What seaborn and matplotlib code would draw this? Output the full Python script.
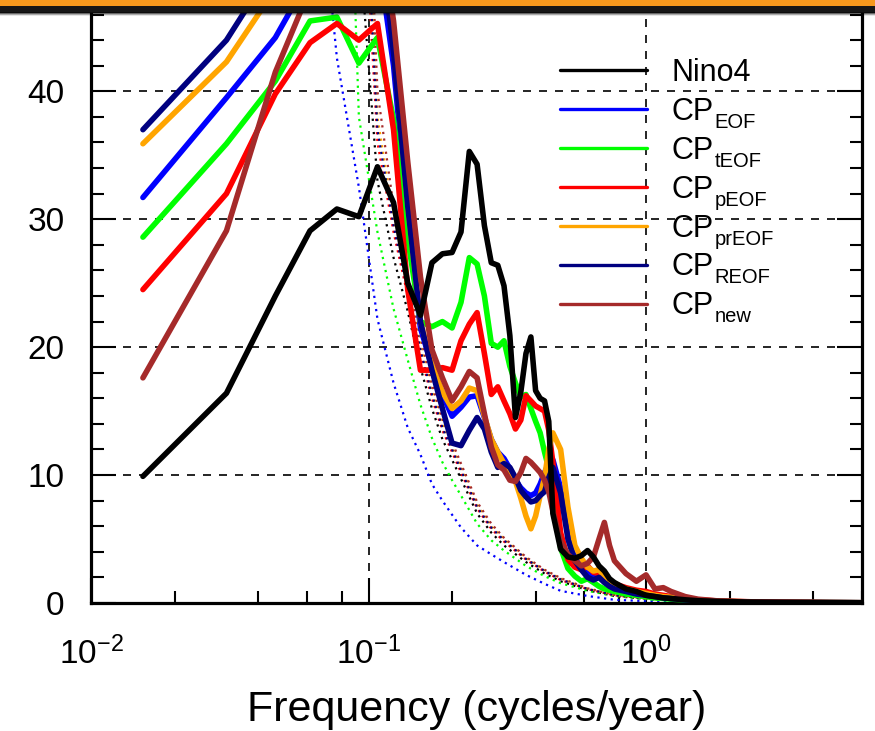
import numpy as np
import pandas as pd
import matplotlib
matplotlib.use("Agg")
import matplotlib.pyplot as plt
import seaborn as sns
from matplotlib.ticker import LogLocator, FixedLocator, MultipleLocator, FuncFormatter, NullFormatter
from matplotlib.patches import Rectangle

sns.set_style("ticks")
plt.rcParams["font.family"] = ["Liberation Sans", "DejaVu Sans"]
plt.rcParams["mathtext.fontset"] = "custom"
plt.rcParams["mathtext.rm"] = "Liberation Sans"
plt.rcParams["mathtext.it"] = "Liberation Sans:italic"
plt.rcParams["mathtext.bf"] = "Liberation Sans:bold"
for key in ["text.color", "axes.labelcolor", "xtick.color", "ytick.color", "axes.edgecolor"]:
    plt.rcParams[key] = "black"

# ---------------------------------------------------------------------------
# Power spectra of the CP-ENSO indices (monthly series, 65-year record)
# ---------------------------------------------------------------------------
RECORD_YEARS = 65
harmonic = [1, 2, 3, 4, 5, 6, 7, 8, 9, 10, 11, 12, 13, 14, 15, 16, 17, 18, 19, 20,
            21, 22, 23, 24, 25, 26, 27, 28, 29, 30, 32, 34, 36, 38, 40, 42, 44, 46, 48, 50,
            55, 60, 65, 70, 75, 80, 90, 100, 120, 150, 200, 300, 390]

nino4 = [9.9, 16.4, 24.0, 29.1, 30.8, 30.2, 34.1, 31.3, 25.0, 22.5, 26.6, 27.3, 27.4, 29.0, 35.3,
         34.3, 29.5, 26.6, 26.4, 24.8, 20.9, 14.5, 16.5, 19.5, 20.8, 16.6, 16.0, 15.8, 14.2, 7.0,
         4.2, 3.6, 3.5, 3.7, 4.1, 3.6, 2.9, 2.5, 1.9, 1.6, 1.1, 0.9, 0.6, 0.5, 0.4, 0.35, 0.25,
         0.18, 0.12, 0.08, 0.05, 0.03, 0.02]
cp_eof = [31.7, 39.5, 44.2, 49.0, 52.0, 52.0, 51.0, 42.0, 30.0, 21.5, 18.5, 16.3, 14.6, 15.3, 16.1,
          16.2, 14.5, 12.8, 11.8, 11.3, 10.5, 9.6, 9.0, 8.6, 8.4, 8.6, 9.3, 10.2, 10.9, 11.2,
          9.0, 5.5, 3.6, 2.8, 2.3, 2.0, 2.4, 1.9, 1.5, 1.2, 0.9, 0.75, 0.6, 0.5, 0.42, 0.36, 0.27,
          0.2, 0.13, 0.08, 0.05, 0.03, 0.02]
cp_teof = [28.6, 35.9, 40.8, 45.5, 45.8, 42.2, 44.2, 37.8, 28.5, 22.0, 21.6, 22.0, 21.5, 23.5, 27.0,
           26.5, 24.0, 20.3, 20.0, 20.5, 18.5, 17.2, 16.1, 16.3, 15.2, 14.2, 13.3, 11.8, 10.5, 8.3,
           4.3, 2.7, 2.1, 1.7, 1.9, 1.6, 1.3, 1.1, 1.0, 0.9, 0.7, 0.6, 0.5, 0.4, 0.35, 0.3, 0.25,
           0.2, 0.12, 0.08, 0.05, 0.03, 0.02]
cp_peof = [24.5, 32.0, 39.8, 43.8, 45.3, 44.0, 45.3, 37.0, 24.5, 18.2, 18.2, 18.4, 18.2, 20.5, 21.8,
           22.7, 19.5, 16.3, 16.9, 15.8, 14.8, 13.6, 14.3, 16.2, 15.8, 15.4, 15.2, 15.0, 13.5, 11.0,
           5.5, 3.4, 2.8, 2.6, 2.9, 2.4, 2.3, 2.0, 1.8, 1.5, 1.2, 1.0, 0.9, 0.7, 0.6, 0.5, 0.35,
           0.25, 0.15, 0.1, 0.06, 0.03, 0.02]
cp_preof = [35.9, 42.3, 48.0, 53.0, 56.0, 57.0, 56.0, 43.5, 31.0, 22.0, 18.6, 16.5, 15.2, 15.8, 16.8,
            16.6, 14.6, 12.8, 11.8, 10.9, 10.3, 9.5, 8.2, 6.8, 5.8, 6.8, 8.4, 9.8, 12.0, 13.3,
            12.0, 7.5, 4.5, 3.5, 2.8, 2.5, 2.6, 2.1, 1.7, 1.4, 1.1, 0.9, 0.75, 0.6, 0.5, 0.45, 0.32,
            0.22, 0.14, 0.09, 0.05, 0.03, 0.02]
cp_reof = [37.0, 44.0, 50.0, 54.0, 56.0, 56.0, 54.0, 43.0, 31.0, 22.0, 18.2, 15.2, 12.5, 12.3, 13.5,
           14.5, 13.6, 11.8, 10.6, 10.9, 10.6, 9.8, 8.8, 8.3, 7.9, 8.0, 8.4, 8.7, 9.8, 10.6,
           8.6, 5.0, 3.3, 2.6, 2.0, 1.8, 2.0, 1.6, 1.3, 1.1, 0.9, 0.7, 0.6, 0.5, 0.4, 0.35, 0.25,
           0.18, 0.12, 0.08, 0.05, 0.03, 0.02]
cp_new = [17.6, 29.1, 41.5, 48.0, 53.0, 56.0, 54.0, 45.5, 34.5, 25.5, 19.8, 17.6, 15.8, 16.9, 18.1,
          17.6, 14.8, 12.2, 10.8, 10.4, 9.6, 9.5, 10.2, 11.3, 11.0, 10.6, 10.2, 9.6, 8.7, 7.2,
          4.8, 3.8, 3.3, 2.9, 3.1, 3.6, 5.0, 6.3, 4.5, 3.3, 2.3, 1.7, 2.2, 1.1, 1.2, 0.9, 0.5,
          0.3, 0.15, 0.1, 0.06, 0.03, 0.02]

# red-noise reference spectra (dotted), on a coarser harmonic grid
harmonic_rn = [4, 5, 6, 7, 8, 9, 10, 11, 12, 13, 14, 16, 18, 20, 24, 28, 32, 40, 50, 65, 80,
               100, 150, 200, 300, 390]
rn_nino4 = [300, 150, 52, 33, 27, 22.8, 18.4, 15.2, 12.8, 11.2, 9.7, 7.0, 5.5, 4.5, 3.2, 2.3, 1.7,
            1.0, 0.55, 0.32, 0.2, 0.12, 0.06, 0.04, 0.02, 0.01]
rn_eof = [64, 42.6, 32.5, 22.2, 17.2, 13.7, 11.6, 9.3, 8.0, 6.9, 5.9, 4.5, 3.8, 3.2, 2.2, 1.5, 0.95,
          0.55, 0.25, 0.15, 0.1, 0.07, 0.04, 0.03, 0.02, 0.01]
rn_teof = [150, 90, 38, 29, 23, 19, 15.5, 12.9, 11.0, 9.6, 8.4, 6.2, 4.9, 4.1, 2.9, 2.1, 1.55,
           0.95, 0.55, 0.3, 0.2, 0.12, 0.06, 0.04, 0.02, 0.01]
rn_peof = [300, 180, 62, 36, 29, 24, 19.5, 16, 13.5, 11.8, 10.2, 7.4, 5.8, 4.8, 3.4, 2.45, 1.8,
           1.08, 0.6, 0.35, 0.22, 0.13, 0.07, 0.04, 0.02, 0.01]
rn_preof = [300, 200, 70, 38, 30, 24.8, 20.2, 16.6, 14.0, 12.2, 10.6, 7.7, 6.0, 5.0, 3.5, 2.55, 1.9,
            1.12, 0.62, 0.36, 0.23, 0.14, 0.07, 0.04, 0.02, 0.01]
rn_reof = [300, 190, 66, 37, 29.5, 24.4, 19.8, 16.3, 13.7, 12.0, 10.4, 7.5, 5.9, 4.9, 3.45, 2.5,
           1.85, 1.1, 0.61, 0.35, 0.22, 0.13, 0.07, 0.04, 0.02, 0.01]
rn_new = [300, 220, 76, 40, 31, 25.5, 20.8, 17.1, 14.4, 12.6, 10.9, 7.9, 6.2, 5.1, 3.6, 2.6, 1.95,
          1.15, 0.64, 0.37, 0.24, 0.14, 0.07, 0.04, 0.02, 0.01]

names = ["Nino4", "CP", "CP", "CP", "CP", "CP", "CP"]
subscripts = ["", "EOF", "tEOF", "pEOF", "prEOF", "REOF", "new"]
colors = ["black", "#0000ff", "#00ff00", "#ff0000", "#ffa500", "#000080", "#a52a2a"]
spectra = [nino4, cp_eof, cp_teof, cp_peof, cp_preof, cp_reof, cp_new]
rednoise = [rn_nino4, rn_eof, rn_teof, rn_peof, rn_preof, rn_reof, rn_new]

freq = np.array(harmonic) / RECORD_YEARS
freq_rn = np.array(harmonic_rn) / RECORD_YEARS

W, H = 875, 731
fig = plt.figure(figsize=(W / 100, H / 100), dpi=100)
fig.patch.set_facecolor("white")
ax = fig.add_axes([91 / W, 1 - 603 / H, (862 - 91) / W, (603 - 12) / H])
ax.set_xscale("log")

# dotted red-noise curves underneath
for vals, c in zip(rednoise, colors):
    sns.lineplot(x=freq_rn, y=vals, color=c, lw=1.6, linestyle=(0, (1, 2.0)), ax=ax,
                 legend=False, zorder=2)

# spectra, black drawn last
order = [1, 2, 3, 4, 5, 6, 0]
handles = {}
for i in order:
    sns.lineplot(x=freq, y=spectra[i], color=colors[i], lw=4.0, ax=ax, legend=False, zorder=3)
    handles[i] = ax.lines[-1]

ax.set_xlim(0.01, 6)
ax.set_ylim(0, 46.2)

# axes styling
for side in ["left", "right", "bottom"]:
    ax.spines[side].set_linewidth(2.3)
    ax.spines[side].set_color("black")
ax.spines["top"].set_visible(False)

ax.xaxis.set_major_locator(FixedLocator([0.01, 0.1, 1]))
ax.xaxis.set_minor_locator(LogLocator(base=10, subs=(2, 4, 6, 8)))
ax.xaxis.set_major_formatter(FuncFormatter(lambda v, p: r"$\mathregular{10^{%d}}$" % round(np.log10(v))))
ax.xaxis.set_minor_formatter(NullFormatter())
ax.yaxis.set_major_locator(MultipleLocator(10))
ax.yaxis.set_minor_locator(MultipleLocator(2))

ax.tick_params(axis="both", which="both", direction="in", color="black", width=1.5,
               left=True, right=True, bottom=True, top=False, labelcolor="black")
ax.tick_params(axis="both", which="major", length=18, labelsize=24)
ax.tick_params(axis="both", which="minor", length=9)
ax.tick_params(axis="x", which="major", pad=24)
ax.tick_params(axis="y", which="major", pad=19)

ax.grid(which="major", color="black", lw=1.2, ls=(0, (4.8, 4.8)))
ax.set_axisbelow(True)

ax.set_xlabel("Frequency (cycles/year)", fontsize=31, labelpad=14, color="black")
ax.set_ylabel("")

# legend
leg = ax.legend([handles[i] for i in range(7)], names, loc="upper left",
                bbox_to_anchor=(0.608, 0.922), frameon=False, fontsize=22,
                handlelength=2.84, handletextpad=0.82, labelspacing=0.29,
                borderpad=0, borderaxespad=0)
for ln in leg.get_lines():
    ln.set_linewidth(2.4)
for t in leg.get_texts():
    t.set_color("black")

fig.canvas.draw()
renderer = fig.canvas.get_renderer()
for t, sub in zip(leg.get_texts(), subscripts):
    if not sub:
        continue
    bb = t.get_window_extent(renderer)
    ax.annotate(sub, xy=(bb.x1 + 1, bb.y0 - 1), xycoords="figure pixels",
                fontsize=14.5, va="baseline", ha="left", color="black")

# title bar across the top edge
fig.add_artist(Rectangle((0, 1 - 6.5 / H), 1, 6.5 / H, transform=fig.transFigure,
                         color="#f7981d", zorder=20, lw=0))
fig.add_artist(Rectangle((0, 1 - 12.5 / H), 1, 6 / H, transform=fig.transFigure,
                         color="#161616", zorder=20, lw=0))
for j, a in enumerate([0.45, 0.25, 0.1]):
    fig.add_artist(Rectangle((0, 1 - (13.5 + j) / H), 1, 1 / H, transform=fig.transFigure,
                             color="black", alpha=a, zorder=20, lw=0))

fig.savefig("out.png", dpi=100, facecolor="white")
